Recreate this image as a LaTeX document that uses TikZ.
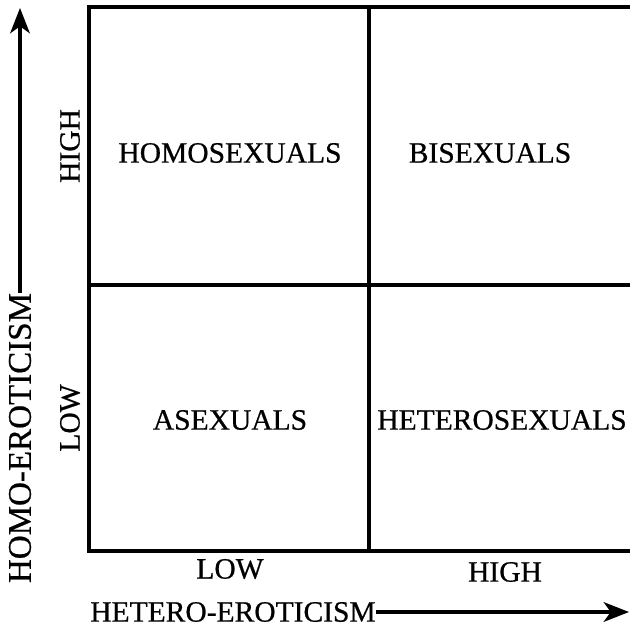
\documentclass[tikz,border=0pt]{standalone}
\usepackage{fontspec}
\setmainfont{Liberation Serif}[FakeBold=0.6]
\usetikzlibrary{arrows.meta}

\begin{document}
\begin{tikzpicture}[
  x=0.025cm, y=-0.025cm,
  >={Stealth[length=18pt, width=14pt, inset=5pt]},
  every node/.style={inner sep=0pt, font=\fontsize{21}{24}\selectfont},
  gridline/.style={line width=2.5pt, draw=black},
  axisline/.style={->, line width=2.3pt, draw=black},
  ticklabel/.style={anchor=center},
  axistitle/.style={anchor=center}
]
\useasboundingbox (0,0) rectangle (630,631);

% the 2x2 grid, open on the right
\draw[gridline] (630,7) -- (89,7) -- (89,551) -- (630,551);
\draw[gridline] (369,7) -- (369,551);
\draw[gridline] (89,285) -- (630,285);

% cell labels
\node (homo)   at (230,153) {HOMOSEXUALS};
\node (bi)     at (490,153) {BISEXUALS};
\node (asex)   at (230,420) {ASEXUALS};
\node (hetero) at (502,420) {HETEROSEXUALS};

% tick labels
\node[ticklabel, rotate=90] (yhigh) at (70,146) {HIGH};
\node[ticklabel, rotate=90] (ylow)  at (70,418) {LOW};
\node[ticklabel] (xlow)  at (230,569) {LOW};
\node[ticklabel] (xhigh) at (505,572) {HIGH};

% axis titles with arrows
\node[axistitle, rotate=90, font=\fontsize{23.5}{26}\selectfont] (ytitle) at (20,438) {HOMO-EROTICISM};
\node[axistitle] (xtitle) at (233,612) {HETERO-EROTICISM};
\coordinate (ytip) at (21,8);
\coordinate (xtip) at (629,612);

\draw[axisline] (ytitle.east) -- (ytitle.east |- ytip);
\draw[axisline] (xtitle.east) -- (xtitle.east -| xtip);

\end{tikzpicture}
\end{document}
